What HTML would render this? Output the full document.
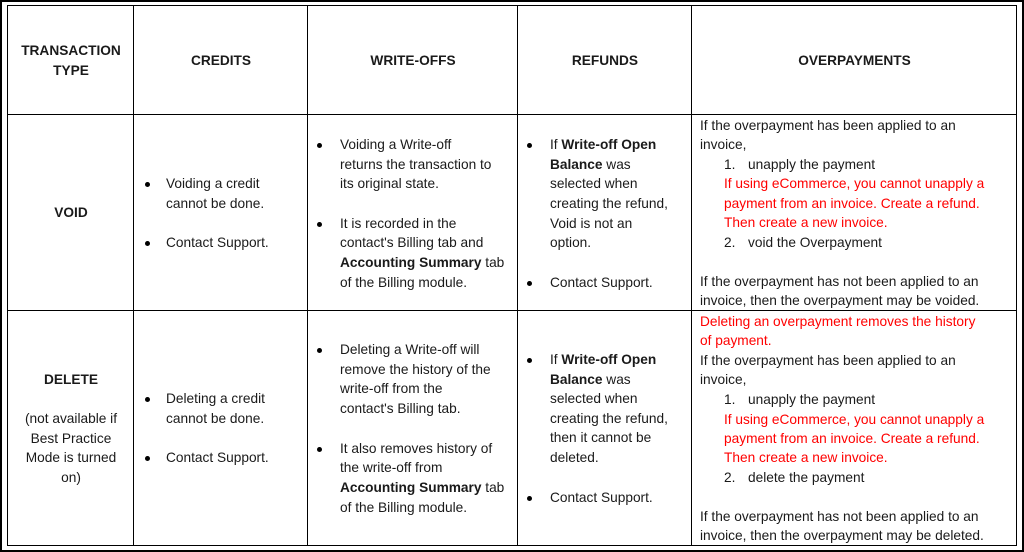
<!DOCTYPE html>
<html><head><meta charset="utf-8">
<style>
html,body{margin:0;padding:0;background:#fff;}
#f{position:relative;width:1020px;height:548px;border:2px solid #000;overflow:hidden;font-family:"Liberation Sans",sans-serif;font-size:13.7px;color:#1a1a1a;}
.v{position:absolute;top:3px;width:1px;height:541px;background:#000;}
.h{position:absolute;left:5px;height:1px;width:1010px;background:#000;}
.l{position:absolute;white-space:nowrap;line-height:20px;}
.c{text-align:center;}
.b{font-weight:bold;}
.r{color:#f00;}
.d{position:absolute;width:5px;height:5px;border-radius:50%;background:#000;}
</style></head><body><div id="f">
<div class="v" style="left:5px"></div>
<div class="v" style="left:131px"></div>
<div class="v" style="left:305px"></div>
<div class="v" style="left:515px"></div>
<div class="v" style="left:689px"></div>
<div class="v" style="left:1014px"></div>
<div class="h" style="top:3px"></div>
<div class="h" style="top:112px"></div>
<div class="h" style="top:308px"></div>
<div class="h" style="top:543px"></div>

<div class="l c b" style="left:6px;width:126px;top:39px">TRANSACTION</div>
<div class="l c b" style="left:6px;width:126px;top:59px">TYPE</div>
<div class="l c b" style="left:132px;width:174px;top:49px">CREDITS</div>
<div class="l c b" style="left:306px;width:210px;top:49px">WRITE-OFFS</div>
<div class="l c b" style="left:516px;width:174px;top:49px">REFUNDS</div>
<div class="l c b" style="left:690px;width:325px;top:49px">OVERPAYMENTS</div>

<div class="l c b" style="left:6px;width:126px;top:201px">VOID</div>
<div class="d" style="left:143px;top:180px"></div>
<div class="l" style="left:164px;top:172px">Voiding a credit</div>
<div class="l" style="left:164px;top:192px">cannot be done.</div>
<div class="d" style="left:143px;top:239px"></div>
<div class="l" style="left:164px;top:231px">Contact Support.</div>

<div class="d" style="left:315px;top:141px"></div>
<div class="l" style="left:338px;top:133px">Voiding a Write-off</div>
<div class="l" style="left:338px;top:153px">returns the transaction to</div>
<div class="l" style="left:338px;top:172px">its original state.</div>
<div class="d" style="left:315px;top:220px"></div>
<div class="l" style="left:338px;top:212px">It is recorded in the</div>
<div class="l" style="left:338px;top:231px">contact's Billing tab and</div>
<div class="l" style="left:338px;top:251px"><span class="b">Accounting Summary</span> tab</div>
<div class="l" style="left:338px;top:271px">of the Billing module.</div>

<div class="d" style="left:525px;top:141px"></div>
<div class="l" style="left:548px;top:133px">If <span class="b">Write-off Open</span></div>
<div class="l" style="left:548px;top:153px"><span class="b">Balance</span> was</div>
<div class="l" style="left:548px;top:172px">selected when</div>
<div class="l" style="left:548px;top:192px">creating the refund,</div>
<div class="l" style="left:548px;top:212px">Void is not an</div>
<div class="l" style="left:548px;top:231px">option.</div>
<div class="d" style="left:525px;top:279px"></div>
<div class="l" style="left:548px;top:271px">Contact Support.</div>

<div class="l" style="left:698px;top:114px">If the overpayment has been applied to an</div>
<div class="l" style="left:698px;top:133px">invoice,</div>
<div class="l" style="left:722px;top:153px">1.</div><div class="l" style="left:746px;top:153px">unapply the payment</div>
<div class="l r" style="left:722px;top:172px">If using eCommerce, you cannot unapply a</div>
<div class="l r" style="left:722px;top:192px">payment from an invoice. Create a refund.</div>
<div class="l r" style="left:722px;top:211px">Then create a new invoice.</div>
<div class="l" style="left:722px;top:231px">2.</div><div class="l" style="left:746px;top:231px">void the Overpayment</div>
<div class="l" style="left:698px;top:270px">If the overpayment has not been applied to an</div>
<div class="l" style="left:698px;top:289px">invoice, then the overpayment may be voided.</div>

<div class="l c b" style="left:6px;width:126px;top:368px">DELETE</div>
<div class="l c" style="left:6px;width:126px;top:407px">(not available if</div>
<div class="l c" style="left:6px;width:126px;top:427px">Best Practice</div>
<div class="l c" style="left:6px;width:126px;top:446px">Mode is turned</div>
<div class="l c" style="left:6px;width:126px;top:466px">on)</div>

<div class="d" style="left:143px;top:395px"></div>
<div class="l" style="left:164px;top:387px">Deleting a credit</div>
<div class="l" style="left:164px;top:407px">cannot be done.</div>
<div class="d" style="left:143px;top:454px"></div>
<div class="l" style="left:164px;top:446px">Contact Support.</div>

<div class="d" style="left:315px;top:346px"></div>
<div class="l" style="left:338px;top:338px">Deleting a Write-off will</div>
<div class="l" style="left:338px;top:358px">remove the history of the</div>
<div class="l" style="left:338px;top:377px">write-off from the</div>
<div class="l" style="left:338px;top:397px">contact's Billing tab.</div>
<div class="d" style="left:315px;top:445px"></div>
<div class="l" style="left:338px;top:437px">It also removes history of</div>
<div class="l" style="left:338px;top:456px">the write-off from</div>
<div class="l" style="left:338px;top:476px"><span class="b">Accounting Summary</span> tab</div>
<div class="l" style="left:338px;top:496px">of the Billing module.</div>

<div class="d" style="left:525px;top:356px"></div>
<div class="l" style="left:548px;top:348px">If <span class="b">Write-off Open</span></div>
<div class="l" style="left:548px;top:368px"><span class="b">Balance</span> was</div>
<div class="l" style="left:548px;top:387px">selected when</div>
<div class="l" style="left:548px;top:407px">creating the refund,</div>
<div class="l" style="left:548px;top:426px">then it cannot be</div>
<div class="l" style="left:548px;top:446px">deleted.</div>
<div class="d" style="left:525px;top:494px"></div>
<div class="l" style="left:548px;top:486px">Contact Support.</div>

<div class="l r" style="left:698px;top:310px">Deleting an overpayment removes the history</div>
<div class="l r" style="left:698px;top:329px">of payment.</div>
<div class="l" style="left:698px;top:349px">If the overpayment has been applied to an</div>
<div class="l" style="left:698px;top:368px">invoice,</div>
<div class="l" style="left:722px;top:388px">1.</div><div class="l" style="left:746px;top:388px">unapply the payment</div>
<div class="l r" style="left:722px;top:408px">If using eCommerce, you cannot unapply a</div>
<div class="l r" style="left:722px;top:427px">payment from an invoice. Create a refund.</div>
<div class="l r" style="left:722px;top:446px">Then create a new invoice.</div>
<div class="l" style="left:722px;top:466px">2.</div><div class="l" style="left:746px;top:466px">delete the payment</div>
<div class="l" style="left:698px;top:505px">If the overpayment has not been applied to an</div>
<div class="l" style="left:698px;top:524px">invoice, then the overpayment may be deleted.</div>
</div></body></html>
